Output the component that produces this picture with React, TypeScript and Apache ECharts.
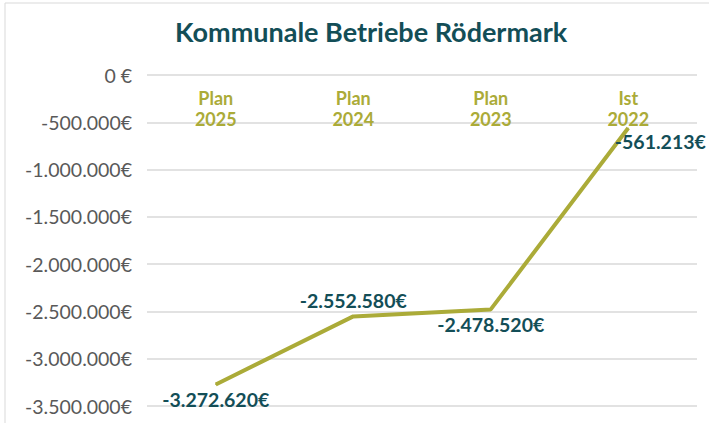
import React, { useEffect, useRef } from "react";
import * as echarts from "echarts";

const categories = ["Plan\n2025", "Plan\n2024", "Plan\n2023", "Ist\n2022"];
const values = [-3272620, -2552580, -2478520, -561213];
const labelPositions = ["bottom", "top", "bottom", "right"];
const yMin = -3500000;
const yMax = 0;
const yStep = 500000;

const fmt = (v: number) => {
  const s = Math.abs(v).toString().replace(/\B(?=(\d{3})+(?!\d))/g, ".");
  return (v < 0 ? "-" : "") + s;
};

export default function App() {
  const ref = useRef<HTMLDivElement>(null);
  useEffect(() => {
    if (!ref.current) return;
    const chart = echarts.init(ref.current, null, { renderer: "svg" });
    chart.setOption({
      animation: false,
      backgroundColor: "#ffffff",
      textStyle: { fontFamily: "Lato" },
      title: {
        text: "Kommunale Betriebe Rödermark",
        left: 170,
        top: 13,
        textStyle: { fontFamily: "Lato", fontSize: 27, fontWeight: "bold", color: "#134e57" },
      },
      graphic: [
        {
          type: "rect",
          shape: { x: 5, y: 3, width: 720, height: 440 },
          style: { fill: "none", stroke: "#d9d9d9", lineWidth: 1 },
          silent: true,
        },
      ],
      grid: { left: 147, right: 12, top: 75, height: 331, containLabel: false },
      xAxis: {
        type: "category",
        data: categories,
        position: "top",
        boundaryGap: true,
        axisLine: { show: false },
        axisTick: { show: false },
        axisLabel: {
          inside: true,
          margin: 12,
          color: "#abab38",
          fontFamily: "Lato",
          fontWeight: "bold",
          fontSize: 18,
          lineHeight: 21,
        },
      },
      yAxis: {
        type: "value",
        min: yMin,
        max: yMax,
        interval: yStep,
        axisLine: { show: false },
        axisTick: { show: false },
        splitLine: { lineStyle: { color: "#d9d9d9", width: 1.5 } },
        axisLabel: {
          margin: 15,
          color: "#595959",
          fontFamily: "Lato",
          fontSize: 19.5,
          formatter: (v: number) => (v === 0 ? "0 €" : fmt(v) + "€"),
        },
      },
      series: [
        {
          type: "line",
          data: values.map((v, i) => ({
            value: v,
            label:
              labelPositions[i] === "right"
                ? { position: "right", distance: 0, offset: [-14, 13] }
                : { position: labelPositions[i], distance: 5 },
          })),
          symbol: "circle",
          symbolSize: 1,
          itemStyle: { color: "#abab38" },
          lineStyle: { color: "#abab38", width: 4 },
          label: {
            show: true,
            color: "#134e57",
            fontFamily: "Lato",
            fontWeight: "bold",
            fontSize: 19.5,
            formatter: (p: any) => fmt(p.value) + "€",
          },
        },
      ],
    });
    return () => chart.dispose();
  }, []);
  return <div ref={ref} style={{ width: 709, height: 423, position: "absolute", left: 0, top: 0 }} />;
}
